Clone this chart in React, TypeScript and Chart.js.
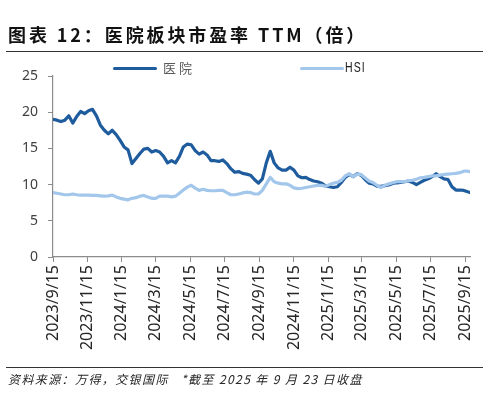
import React, { useEffect, useRef } from "react";
import { Chart, registerables } from "chart.js";

Chart.register(...registerables);

const START_DATE = "2023-09-15";
const END_DATE = "2025-09-23";

// weekly observations from 2023-09-15 (plus the final 2025-09-23 close)
const hospitalPE = [
  19.0, 18.9, 18.7, 18.9, 19.5, 18.5, 19.4, 20.1, 19.8, 20.2,
  20.4, 19.5, 18.2, 17.5, 17.0, 17.5, 16.9, 16.1, 15.2, 14.8,
  12.9, 13.6, 14.3, 14.9, 15.0, 14.5, 14.7, 14.5, 13.9, 13.0,
  13.3, 13.0, 13.9, 15.2, 15.6, 15.5, 14.7, 14.2, 14.5, 14.1,
  13.3, 13.3, 13.2, 13.4, 12.9, 12.2, 11.7, 11.8, 11.55, 11.45,
  11.3, 10.7, 10.2, 10.8, 13.0, 14.6, 13.0, 12.3, 12.0, 12.0,
  12.4, 12.0, 11.2, 10.95, 11.0, 10.7, 10.5, 10.4, 10.2, 9.8,
  9.7, 9.6, 9.7, 10.3, 11.0, 11.4, 11.1, 11.5, 11.3, 10.7,
  10.2, 10.1, 9.8, 9.75, 9.85, 9.95, 10.15, 10.25, 10.3, 10.4,
  10.5, 10.3, 10.0, 10.3, 10.6, 10.8, 11.1, 11.5, 11.1, 10.8,
  10.7, 9.7, 9.25, 9.25, 9.2, 9.0, 8.9,
];

const hsiPE = [
  8.9, 8.8, 8.7, 8.6, 8.6, 8.7, 8.6, 8.55, 8.55, 8.55,
  8.5, 8.5, 8.45, 8.4, 8.45, 8.55, 8.3, 8.1, 8.0, 7.9,
  8.1, 8.2, 8.4, 8.5, 8.3, 8.1, 8.1, 8.4, 8.4, 8.4,
  8.3, 8.4, 8.8, 9.25, 9.65, 9.9, 9.5, 9.2, 9.35, 9.2,
  9.15, 9.15, 9.2, 9.2, 8.9, 8.6, 8.6, 8.7, 8.85, 8.95,
  8.9, 8.7, 8.7, 9.2, 10.1, 11.0, 10.4, 10.2, 10.1, 10.1,
  9.9, 9.55, 9.45, 9.5, 9.6, 9.7, 9.8, 9.9, 9.9, 9.75,
  10.0, 10.2, 10.3, 10.6, 11.2, 11.5, 11.1, 11.4, 11.4, 10.95,
  10.5, 10.3, 9.9, 9.6, 9.9, 10.1, 10.25, 10.4, 10.4, 10.4,
  10.55, 10.6, 10.75, 10.95, 11.0, 11.1, 11.2, 11.2, 11.3, 11.4,
  11.45, 11.5, 11.55, 11.65, 11.85, 11.85, 11.8,
];

const tickLabels = [
  "2023/9/15", "2023/11/15", "2024/1/15", "2024/3/15", "2024/5/15",
  "2024/7/15", "2024/9/15", "2024/11/15", "2025/1/15", "2025/3/15",
  "2025/5/15", "2025/7/15", "2025/9/15",
];

const seriesNames = ["医院", "HSI"];
const yTicks = [0, 5, 10, 15, 20, 25];

const DAY = 86400000;
function toDay(s: string): number {
  const [y, m, d] = s.split(/[-/]/).map(Number);
  const [y0, m0, d0] = START_DATE.split("-").map(Number);
  return Math.round((Date.UTC(y, m - 1, d) - Date.UTC(y0, m0 - 1, d0)) / DAY);
}

const endDay = toDay(END_DATE);
const obsDays: number[] = hospitalPE.map((_, i) =>
  i === hospitalPE.length - 1 ? endDay : i * 7
);
const tickDays = tickLabels.map(toDay);

const DARK = "#1F5C9E";
const LIGHT = "#A3C7EB";

export default function App() {
  const ref = useRef<HTMLCanvasElement | null>(null);

  useEffect(() => {
    if (!ref.current) return;
    const labelFor = new Map<number, string>();
    tickDays.forEach((d, i) => labelFor.set(d, tickLabels[i]));
    const chart = new Chart(ref.current, {
      type: "line",
      data: {
        datasets: [
          {
            label: seriesNames[0],
            data: obsDays.map((d, i) => ({ x: d, y: hospitalPE[i] })),
            borderColor: DARK,
            borderWidth: 3.2,
            pointRadius: 0,
            tension: 0,
            order: 1,
            borderJoinStyle: "round",
            borderCapStyle: "round",
          },
          {
            label: seriesNames[1],
            data: obsDays.map((d, i) => ({ x: d, y: hsiPE[i] })),
            borderColor: LIGHT,
            borderWidth: 3.2,
            pointRadius: 0,
            tension: 0,
            order: 0,
            borderJoinStyle: "round",
            borderCapStyle: "round",
          },
        ],
      },
      options: {
        responsive: false,
        animation: false,
        devicePixelRatio: 1,
        layout: { padding: { left: 0, right: 18, top: 76, bottom: 41 } },
        plugins: { legend: { display: false }, title: { display: false }, tooltip: { enabled: false } },
        scales: {
          x: {
            type: "linear",
            min: 0,
            max: endDay,
            afterFit: (s: any) => {
              s.height = 103;
            },
            afterBuildTicks: (s: any) => {
              s.ticks = tickDays.map((v) => ({ value: v }));
            },
            ticks: {
              autoSkip: false,
              maxRotation: 90,
              minRotation: 90,
              padding: 3,
              color: "#262626",
              font: { family: "'Noto Sans', sans-serif", size: 16 },
              callback: (v: any) => labelFor.get(Number(v)) ?? "",
            },
            grid: { display: true, drawOnChartArea: false, drawTicks: true, tickLength: 5, color: "#8c8c8c" },
            border: { display: true, color: "#8c8c8c", width: 1.2 },
          },
          y: {
            min: 0,
            max: 25,
            afterFit: (s: any) => {
              s.width = 53;
            },
            afterBuildTicks: (s: any) => {
              s.ticks = yTicks.map((v) => ({ value: v }));
            },
            ticks: {
              padding: 10,
              color: "#404040",
              font: { family: "'Noto Sans', sans-serif", size: 14 },
            },
            grid: { display: true, drawOnChartArea: false, drawTicks: true, tickLength: 5, color: "#8c8c8c" },
            border: { display: true, color: "#8c8c8c", width: 1.2 },
          },
        },
      },
    });
    return () => chart.destroy();
  }, []);

  const rule = (top: number): React.CSSProperties => ({
    position: "absolute",
    left: 6,
    width: 477,
    top,
    height: 1.6,
    background: "#333",
  });

  return (
    <div
      style={{
        position: "absolute",
        left: 0,
        top: 0,
        width: 488,
        height: 401,
        background: "#fff",
        overflow: "hidden",
        fontFamily: "'Noto Sans CJK SC', 'Noto Sans', sans-serif",
      }}
    >
      <canvas ref={ref} width={488} height={401} style={{ position: "absolute", left: 0, top: 0, width: 488, height: 401 }} />
      <div
        style={{
          position: "absolute",
          left: 8,
          top: 25,
          fontSize: 18,
          lineHeight: "18px",
          fontWeight: 700,
          letterSpacing: 2.9,
          color: "#111",
          whiteSpace: "pre",
        }}
      >
        图表 12：医院板块市盈率 TTM（倍）
      </div>
      <div style={rule(50.5)} />
      <div style={{ position: "absolute", left: 113, top: 66.5, width: 44, height: 3.4, borderRadius: 2, background: DARK }} />
      <div
        style={{
          position: "absolute",
          left: 163,
          top: 61,
          fontSize: 13,
          lineHeight: "14px",
          letterSpacing: 3,
          color: "#595959",
        }}
      >
        {seriesNames[0]}
      </div>
      <div style={{ position: "absolute", left: 300, top: 66.5, width: 44, height: 3.4, borderRadius: 2, background: LIGHT }} />
      <div
        style={{
          position: "absolute",
          left: 345,
          top: 60,
          fontSize: 14,
          lineHeight: "14px",
          letterSpacing: 1.5,
          color: "#1a1a1a",
          fontFamily: "'Liberation Sans', sans-serif",
          transform: "scaleX(0.75)",
          transformOrigin: "left top",
        }}
      >
        {seriesNames[1]}
      </div>
      <div style={rule(366.5)} />
      <div
        style={{
          position: "absolute",
          left: 8,
          top: 372,
          fontSize: 12,
          lineHeight: "13px",
          fontStyle: "italic",
          letterSpacing: 1.4,
          color: "#262626",
          whiteSpace: "pre",
        }}
      >
        资料来源：万得，交银国际   *截至 2025 年 9 月 23 日收盘
      </div>
    </div>
  );
}
